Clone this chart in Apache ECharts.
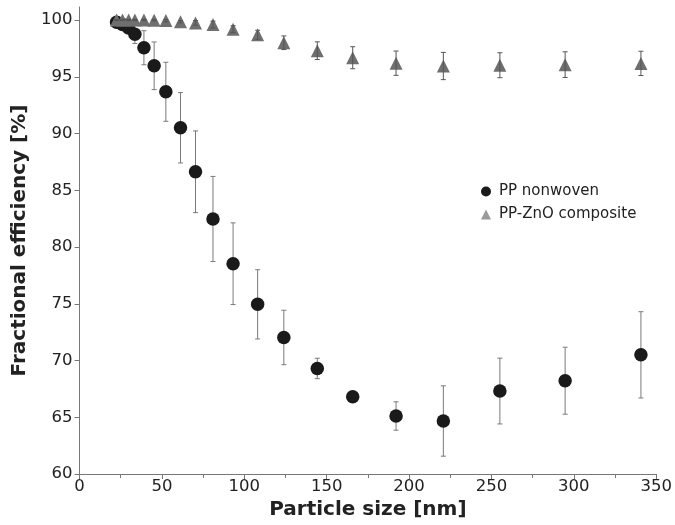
<!DOCTYPE html>
<html>
<head>
<meta charset="utf-8">
<script src="https://cdn.jsdelivr.net/npm/echarts@6/dist/echarts.min.js"></script>
<style>
html,body{margin:0;padding:0;background:#fff;}
#chart{width:675px;height:525px;}
</style>
</head>
<body>
<div id="chart"></div>
<script>
// Particle size [nm]
var sizes = [22.5, 26.1, 29.8, 33.6, 39.1, 45.3, 52.4, 61.3, 70.4, 81.0, 93.2, 108.1, 124.0, 144.3, 165.8, 192.1, 220.8, 255.1, 294.7, 340.7];
// PP nonwoven fractional efficiency [%] and error
var ppMean = [99.8, 99.6, 99.3, 98.74, 97.56, 95.97, 93.68, 90.51, 86.63, 82.47, 78.53, 74.95, 72.03, 69.3, 66.81, 65.11, 64.67, 67.31, 68.22, 70.5];
var ppErr  = [0.1, 0.2, 0.4, 0.8, 1.5, 2.1, 2.6, 3.1, 3.6, 3.75, 3.6, 3.05, 2.4, 0.9, 0.3, 1.25, 3.1, 2.9, 2.95, 3.8];
// PP-ZnO composite fractional efficiency [%] and error
var znoMean = [100.0, 100.0, 100.0, 100.0, 100.0, 99.98, 99.95, 99.85, 99.75, 99.6, 99.2, 98.7, 98.0, 97.3, 96.68, 96.2, 95.95, 96.02, 96.07, 96.18];
var znoErr  = [0.05, 0.05, 0.05, 0.05, 0.05, 0.05, 0.1, 0.1, 0.2, 0.3, 0.3, 0.4, 0.6, 0.78, 0.97, 1.07, 1.2, 1.1, 1.13, 1.07];
// Tick values
var yTicks = [60, 65, 70, 75, 80, 85, 90, 95, 100];

var seriesNames = ['PP nonwoven', 'PP-ZnO composite'];

function pts(mean) { return sizes.map(function (s, i) { return [s, mean[i]]; }); }
function bars(mean, err) { return sizes.map(function (s, i) { return [s, mean[i] - err[i], mean[i] + err[i]]; }); }

function errRender(color) {
  return function (params, api) {
    var x = api.value(0);
    var lo = api.coord([x, api.value(1)]);
    var hi = api.coord([x, api.value(2)]);
    var hw = 2.5;
    var st = { stroke: color, lineWidth: 1 };
    return {
      type: 'group',
      children: [
        { type: 'line', shape: { x1: lo[0], y1: lo[1], x2: hi[0], y2: hi[1] }, style: st },
        { type: 'line', shape: { x1: lo[0] - hw, y1: lo[1], x2: lo[0] + hw, y2: lo[1] }, style: st },
        { type: 'line', shape: { x1: hi[0] - hw, y1: hi[1], x2: hi[0] + hw, y2: hi[1] }, style: st }
      ]
    };
  };
}

var font = 'DejaVu Sans';
var chart = echarts.init(document.getElementById('chart'), null, { renderer: 'canvas' });
chart.setOption({
  animation: false,
  backgroundColor: '#fff',
  textStyle: { fontFamily: font },
  grid: { left: 79.5, right: 17.5, top: 7, bottom: 51 },
  legend: {
    orient: 'vertical',
    left: 476,
    top: 179,
    itemWidth: 10,
    itemHeight: 10,
    itemGap: 8,
    textStyle: { fontFamily: font, fontSize: 15, color: '#222', padding: [0, 0, 0, 3] },
    data: [
      { name: seriesNames[0], icon: 'circle', itemStyle: { color: '#1a1a1a' } },
      { name: seriesNames[1], icon: 'triangle', itemStyle: { color: '#9a9a9a' } }
    ]
  },
  xAxis: {
    type: 'value',
    min: 0, max: 350, interval: 50,
    name: 'Particle size [nm]',
    nameLocation: 'middle',
    nameGap: 26,
    nameTextStyle: { fontFamily: font, fontSize: 20, fontWeight: 'bold', color: '#222' },
    axisLine: { lineStyle: { color: '#777', width: 1 } },
    axisTick: { show: true, length: 5, lineStyle: { color: '#777' } },
    minorTick: { show: true, splitNumber: 2, length: 4, lineStyle: { color: '#777' } },
    axisLabel: { fontFamily: font, fontSize: 16.5, color: '#222', margin: 4 },
    splitLine: { show: false }
  },
  yAxis: {
    type: 'value',
    min: 60, max: 101.15,
    name: 'Fractional efficiency [%]',
    nameLocation: 'middle',
    nameGap: 43,
    nameTextStyle: { fontFamily: font, fontSize: 20, fontWeight: 'bold', color: '#222' },
    axisLine: { show: true, lineStyle: { color: '#777', width: 1 } },
    axisTick: { show: true, length: 5, customValues: yTicks, lineStyle: { color: '#777' } },
    axisLabel: { fontFamily: font, fontSize: 16.5, color: '#222', margin: 7, customValues: yTicks },
    splitLine: { show: false }
  },
  series: [
    {
      name: seriesNames[0] + ' err',
      type: 'custom',
      renderItem: errRender('#7a7a7a'),
      encode: { x: 0, y: [1, 2] },
      data: bars(ppMean, ppErr),
      z: 2
    },
    {
      name: seriesNames[0],
      type: 'scatter',
      symbol: 'circle',
      symbolSize: 13.5,
      itemStyle: { color: '#1a1a1a', opacity: 1 },
      data: pts(ppMean),
      z: 3
    },
    {
      name: seriesNames[1],
      type: 'scatter',
      symbol: 'triangle',
      symbolSize: [13, 13],
      itemStyle: { color: '#6f6f6f', opacity: 1 },
      data: pts(znoMean),
      z: 4
    },
    {
      name: seriesNames[1] + ' err',
      type: 'custom',
      renderItem: errRender('#555'),
      encode: { x: 0, y: [1, 2] },
      data: bars(znoMean, znoErr),
      z: 5
    }
  ]
});
</script>
</body>
</html>
